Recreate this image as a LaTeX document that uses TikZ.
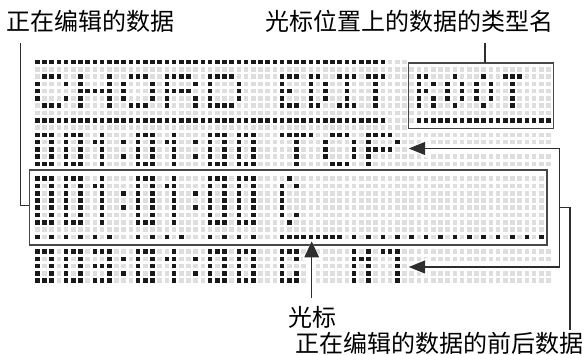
\documentclass[tikz,border=0pt]{standalone}
\usepackage{fontspec}
\newfontfamily\cjk{Noto Sans CJK SC}
\usetikzlibrary{arrows.meta}
\makeatletter
\newcount\dcol
\def\dotrow#1#2{\dcol=0 \def\drow{#1}\dotrow@#2\relax}
\def\dotrow@#1{%
  \ifx\relax#1\else
    \ifx X#1\fill[doton] ({37.3+7.2*\the\dcol-2.3},{62+7.29*\drow-2.3}) rectangle ++(4.6,4.6);\fi
    \ifx.#1\fill[dotoff] ({37.3+7.2*\the\dcol-2.3},{62+7.29*\drow-2.3}) rectangle ++(4.6,4.6);\fi
    \advance\dcol by 1
    \expandafter\dotrow@
  \fi}
\makeatother
\begin{document}
\begin{tikzpicture}[x=1pt,y=-1pt,
  doton/.style={fill=black!90},
  dotoff/.style={fill=black!13},
  lcdbox/.style={draw=black!72,line width=1.6pt,inner sep=0pt,outer sep=0pt},
  conn/.style={draw=black!82,line width=1.35pt},
  whitehalo/.style={draw=white,line width=4.5pt},
  arrowtip/.style={-{Triangle[length=16.5pt,width=13pt]}},
  arrowtipc/.style={-{Triangle[length=16pt,width=14.5pt]}},
  arrowhalo/.style={-{Triangle[length=19pt,width=18pt]}},
  lbl/.style={inner sep=0pt,font=\cjk\fontsize{24}{28}\selectfont}]
\useasboundingbox (0,0) rectangle (584,355);
\fill[white] (0,0) rectangle (584,355);
% ---- LCD dot matrix ----
\dotrow{0}{XXXXXXXXXX XXXXXXXXXX XXXXXXXXXX XXXXXXXXXX XXXXXXXXX ... ---------- ----------}
\dotrow{1}{.......... .......... .......... .......... .......... .......... .......... ..}
\dotrow{2}{.XXX. . X...X . .XXX. . XXXX. . XXXX. ..... XXX . XX. . XXX . XXX .... XX. . .X. . .X. . XXX ....}
\dotrow{3}{X...X . X...X . X...X . X...X . X...X ..... X.. . X.X . .X. . .X. .... X.X . X.X . X.X . .X. ....}
\dotrow{4}{X.... . XXXXX . X...X . XXXX. . X...X ..... XX. . X.X . .X. . .X. .... XX. . X.X . X.X . .X. ....}
\dotrow{5}{X...X . X...X . X...X . X...X . X...X ..... X.. . X.X . .X. . .X. .... X.X . X.X . X.X . .X. ....}
\dotrow{6}{.XXX. . X...X . .XXX. . X...X . XXXX. ..... XXX . XX. . XXX . .X. .... X.X . .X. . .X. . .X. ....}
\dotrow{7}{.......... .......... .......... .......... .......... .......... .......... ..}
\dotrow{8}{XXXXXXXXXX XXXXXXXXXX XXXXXXXXXX XXXXXXXXXX XXXXXXXXX .... XXXXXXXXXX XXXXXXXXX}
\dotrow{9}{.......... .......... .......... .......... .......... .. ---------- ----------}
\dotrow{10}{XXX . XXX . .X. . .. XXX . .X. . .. XXX . XXX ... XXXXX . .XXX. . XXXX. .......... .......... .}
\dotrow{11}{X.X . X.X . XX. . X. X.X . XX. . X. X.X . X.X ... ..X.. . X...X . X...X .......... .......... .}
\dotrow{12}{X.X . X.X . .X. . .. X.X . .X. . .. X.X . X.X ... ..X.. . X...X . XXXX. . ---------- ----------}
\dotrow{13}{X.X . X.X . .X. . X. X.X . .X. . X. X.X . X.X ... ..X.. . X...X . X.... .......... .......... .}
\dotrow{14}{XXX . XXX . .X. . .. XXX . .X. . .. XXX . XXX ... ..X.. . .XXX. . X.... .......... .......... .}
\dotrow{16}{XXX . XXX . .X. . .. XXX . .X. . .. XXX . XXX ... .X. .......... .......... .......... .... -}
\dotrow{17}{X.X . X.X . XX. . .. X.X . XX. . .. X.X . X.X ... X.X .......... .......... .......... .... -}
\dotrow{18}{X.X . X.X . .X. . X. X.X . .X. . X. X.X . X.X ... X.. .......... .......... .......... .... -}
\dotrow{19}{X.X . X.X . .X. . .. X.X . .X. . .. X.X . X.X ... X.. .......... .......... .......... .... -}
\dotrow{20}{X.X . X.X . .X. . X. X.X . .X. . X. X.X . X.X ... X.. .......... .......... .......... .... -}
\dotrow{21}{X.X . X.X . .X. . .. X.X . .X. . .. X.X . X.X ... X.X .......... .......... .......... .... -}
\dotrow{22}{XXX . XXX . .X. . .. XXX . .X. . .. XXX . XXX ... .X. .......... .......... .......... .... -}
\dotrow{23}{.......... .......... .......... .......... .......... .......... .......... . -}
\dotrow{24}{X.X.X.X.X.X ... X.X.X.X ... X.X.X.X ... XXXXXXXXX . X.X.X.X.X. X.X.X.X.X. X.X.X.X -}
\dotrow{26}{XXX . XXX . XXX . .. XXX . .X. . .. XXX . XXX ... XXX . - ..... X.X . XXX .......... .......... .}
\dotrow{27}{X.X . X.X . ..X . X. X.X . XX. . X. X.X . X.X ... X.X . - ..... XXX . ..X .......... .......... .}
\dotrow{28}{X.X . X.X . XXX . .. X.X . .X. . .. X.X . X.X ... X.. . - ..... X.X . ..X . ---------- ----------}
\dotrow{29}{X.X . X.X . ..X . X. X.X . .X. . X. X.X . X.X ... X.X . - ..... X.X . ..X .......... .......... .}
\dotrow{30}{XXX . XXX . XXX . .. XXX . .X. . .. XXX . XXX ... XXX . - ..... X.X . ..X .......... .......... .}
% ---- frames ----
\node[lcdbox, minimum width=145pt, minimum height=65.2pt] (rootbox) at (481,95.9) {};
\node[lcdbox, minimum width=517.4pt, minimum height=74.7pt] (editbox) at (288,207.65) {};
% ---- labels ----
\node[lbl] (lblEdit) at (90.2,21) {正在编辑的数据};
\node[lbl] (lblType) at (409,21) {光标位置上的数据的类型名};
\node[lbl] (lblCursor) at (312.5,317.5) {光标};
\node[lbl] (lblAround) at (439.2,343) {正在编辑的数据的前后数据};
% ---- connector points ----
\coordinate (e1) at (20.7,43);
\coordinate (e2) at (29.3,205.3);
\coordinate (t1) at (485,43);
\coordinate (bTop) at (559.5,148.5);
\coordinate (bBot) at (559.5,267);
\coordinate (topTip) at (408.7,148.5);
\coordinate (m7Tip) at (408.7,267);
\coordinate (bMid) at (559.5,207.5);
\coordinate (bOut) at (570,207.5);
\coordinate (bEnd) at (570,330.5);
\coordinate (cBase) at (311.7,298);
\coordinate (cTip) at (311.7,241.3);
% ---- connectors ----
\draw[conn] (e1) |- (e2);
\draw[conn] (t1) -- (t1 |- rootbox.north);
\draw[whitehalo, arrowhalo] (bTop) -- (topTip);
\draw[whitehalo, arrowhalo] (bBot) -- (m7Tip);
\draw[whitehalo, arrowhalo] (cBase) -- (cTip);
\draw[conn] (bTop) -- (bBot);
\draw[conn, arrowtip, fill=black!82] (bTop) -- (topTip);
\draw[conn, arrowtip, fill=black!82] (bBot) -- (m7Tip);
\draw[conn] (bMid) -- (bOut) -- (bEnd);
\draw[conn, arrowtipc, fill=black!82] (cBase) -- (cTip);
\end{tikzpicture}
\end{document}
